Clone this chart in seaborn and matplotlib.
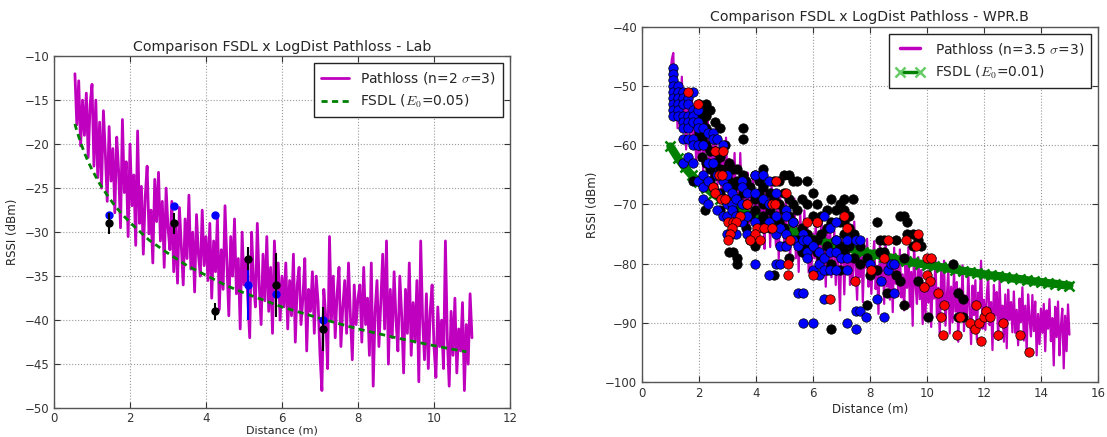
import matplotlib
matplotlib.use("Agg")
import matplotlib.pyplot as plt
import seaborn as sns

# ---------------- Left panel (Lab) ----------------
lab_dist = [
    0.55, 0.60, 0.65, 0.70, 0.75, 0.80, 0.85, 0.90, 0.95, 1.00,
    1.05, 1.10, 1.15, 1.20, 1.25, 1.30, 1.35, 1.40, 1.45, 1.50, 1.55, 1.60, 1.65, 1.70, 1.75, 1.80, 1.85, 1.90, 1.95, 2.00,
    2.05, 2.10, 2.15, 2.20, 2.25, 2.30, 2.35, 2.40, 2.45, 2.50, 2.55, 2.60, 2.65, 2.70, 2.75, 2.80, 2.85, 2.90, 2.95, 3.00,
    3.05, 3.10, 3.15, 3.20, 3.25, 3.30, 3.35, 3.40, 3.45, 3.50, 3.55, 3.60, 3.65, 3.70, 3.75, 3.80, 3.85, 3.90, 3.95, 4.00,
    4.05, 4.10, 4.15, 4.20, 4.25, 4.30, 4.35, 4.40, 4.45, 4.50, 4.55, 4.60, 4.65, 4.70, 4.75, 4.80, 4.85, 4.90, 4.95, 5.00,
    5.05, 5.10, 5.15, 5.20, 5.25, 5.30, 5.35, 5.40, 5.45, 5.50, 5.55, 5.60, 5.65, 5.70, 5.75, 5.80, 5.85, 5.90, 5.95, 6.00,
    6.05, 6.10, 6.15, 6.20, 6.25, 6.30, 6.35, 6.40, 6.45, 6.50, 6.55, 6.60, 6.65, 6.70, 6.75, 6.80, 6.85, 6.90, 6.95, 7.00,
    7.05, 7.10, 7.15, 7.20, 7.25, 7.30, 7.35, 7.40, 7.45, 7.50, 7.55, 7.60, 7.65, 7.70, 7.75, 7.80, 7.85, 7.90, 7.95, 8.00,
    8.05, 8.10, 8.15, 8.20, 8.25, 8.30, 8.35, 8.40, 8.45, 8.50, 8.55, 8.60, 8.65, 8.70, 8.75, 8.80, 8.85, 8.90, 8.95, 9.00,
    9.05, 9.10, 9.15, 9.20, 9.25, 9.30, 9.35, 9.40, 9.45, 9.50, 9.55, 9.60, 9.65, 9.70, 9.75, 9.80, 9.85, 9.90, 9.95, 10.00,
    10.05, 10.10, 10.15, 10.20, 10.25, 10.30, 10.35, 10.40, 10.45, 10.50, 10.55, 10.60, 10.65, 10.70, 10.75, 10.80, 10.85, 10.90, 10.95, 11.00,
]
lab_pathloss = [
    -12.0, -17.8, -12.8, -20.2, -15.0, -19.0, -14.2, -21.5, -15.5, -13.2,
    -22.5, -15.0, -23.8, -17.5, -25.0, -16.2, -21.0, -26.5, -18.0, -24.2, -20.5, -27.8, -19.2, -23.0, -29.5, -17.2, -25.5, -22.0, -30.5, -20.0,
    -27.0, -23.5, -31.5, -18.5, -29.0, -24.8, -32.5, -26.0, -22.5, -30.2, -27.5, -33.5, -24.0, -28.8, -23.2, -31.0, -26.5, -34.0, -25.0, -29.5,
    -32.0, -26.5, -34.5, -29.0, -35.8, -27.2, -31.5, -36.0, -28.5, -33.0, -25.8, -34.2, -30.0, -36.8, -28.0, -32.5, -35.0, -27.5, -33.8, -30.5,
    -35.5, -29.0, -37.5, -31.0, -34.5, -28.2, -38.8, -32.0, -36.5, -27.0, -33.5, -39.5, -30.5, -35.0, -28.5, -37.0, -33.0, -41.0, -30.0, -36.0,
    -33.0, -37.5, -42.0, -30.0, -35.5, -38.5, -29.0, -36.0, -40.5, -32.5, -37.8, -30.5, -39.0, -34.0, -41.5, -31.0, -36.5, -33.5, -40.0, -35.0,
    -38.5, -33.5, -41.0, -35.5, -39.5, -32.5, -42.5, -36.0, -34.0, -40.5, -37.5, -33.0, -43.5, -36.5, -39.0, -34.5, -41.5, -35.0, -38.0, -44.0,
    -48.0, -36.5, -39.5, -45.5, -30.5, -40.0, -35.0, -42.0, -37.0, -34.0, -43.0, -38.5, -35.5, -41.5, -33.5, -39.5, -44.5, -36.0, -40.5, -37.5,
    -36.0, -42.5, -34.0, -40.5, -37.5, -44.0, -33.5, -47.5, -39.0, -35.5, -43.0, -38.0, -32.5, -41.0, -31.0, -45.0, -36.5, -42.0, -34.5, -40.0,
    -43.5, -35.0, -39.5, -46.0, -36.5, -41.5, -33.5, -44.0, -38.0, -42.5, -35.5, -47.0, -31.0, -40.0, -44.5, -37.0, -45.5, -39.0, -36.0, -43.0,
    -46.5, -38.5, -43.0, -40.0, -45.5, -31.0, -42.0, -47.5, -39.0, -44.0, -37.5, -46.0, -41.0, -43.5, -38.0, -48.0, -40.5, -45.0, -37.0, -42.0,
]
lab_fsdl_dist = [0.55, 0.6, 0.7, 0.8, 0.9, 1.0, 1.2, 1.4, 1.6, 1.8, 2.0, 2.5, 3.0, 3.5,
                 4.0, 4.5, 5.0, 6.0, 7.0, 8.0, 9.0, 10.0, 10.85]
lab_fsdl = [-17.7, -18.5, -19.8, -21.0, -22.0, -22.9, -24.5, -25.8, -27.0, -28.0, -28.9, -30.9, -32.4, -33.8,
            -34.9, -36.0, -36.9, -38.5, -39.8, -41.0, -42.0, -42.9, -43.6]

lab_meas_dist = [1.44, 3.16, 4.24, 5.10, 5.84, 7.08]
lab_black_mean = [-29.0, -29.0, -39.0, -33.0, -36.0, -41.0]
lab_black_err = [1.2, 1.2, 1.0, 1.3, 3.6, 2.5]
lab_blue_mean = [-28.0, -27.0, -28.0, -36.0, -37.0, -40.0]
lab_blue_err = [0.3, 0.3, 0.2, 4.0, 0.8, 0.8]

# ---------------- Right panel (WPR.B) ----------------
wpr_dist = [
    1.00,
    1.05, 1.10, 1.15, 1.20, 1.25, 1.30, 1.35, 1.40, 1.45, 1.50, 1.55, 1.60, 1.65, 1.70, 1.75, 1.80, 1.85, 1.90, 1.95, 2.00,
    2.05, 2.10, 2.15, 2.20, 2.25, 2.30, 2.35, 2.40, 2.45, 2.50, 2.55, 2.60, 2.65, 2.70, 2.75, 2.80, 2.85, 2.90, 2.95, 3.00,
    3.05, 3.10, 3.15, 3.20, 3.25, 3.30, 3.35, 3.40, 3.45, 3.50, 3.55, 3.60, 3.65, 3.70, 3.75, 3.80, 3.85, 3.90, 3.95, 4.00,
    4.05, 4.10, 4.15, 4.20, 4.25, 4.30, 4.35, 4.40, 4.45, 4.50, 4.55, 4.60, 4.65, 4.70, 4.75, 4.80, 4.85, 4.90, 4.95, 5.00,
    5.05, 5.10, 5.15, 5.20, 5.25, 5.30, 5.35, 5.40, 5.45, 5.50, 5.55, 5.60, 5.65, 5.70, 5.75, 5.80, 5.85, 5.90, 5.95, 6.00,
    6.05, 6.10, 6.15, 6.20, 6.25, 6.30, 6.35, 6.40, 6.45, 6.50, 6.55, 6.60, 6.65, 6.70, 6.75, 6.80, 6.85, 6.90, 6.95, 7.00,
    7.05, 7.10, 7.15, 7.20, 7.25, 7.30, 7.35, 7.40, 7.45, 7.50, 7.55, 7.60, 7.65, 7.70, 7.75, 7.80, 7.85, 7.90, 7.95, 8.00,
    8.05, 8.10, 8.15, 8.20, 8.25, 8.30, 8.35, 8.40, 8.45, 8.50, 8.55, 8.60, 8.65, 8.70, 8.75, 8.80, 8.85, 8.90, 8.95, 9.00,
    9.05, 9.10, 9.15, 9.20, 9.25, 9.30, 9.35, 9.40, 9.45, 9.50, 9.55, 9.60, 9.65, 9.70, 9.75, 9.80, 9.85, 9.90, 9.95, 10.00,
    10.05, 10.10, 10.15, 10.20, 10.25, 10.30, 10.35, 10.40, 10.45, 10.50, 10.55, 10.60, 10.65, 10.70, 10.75, 10.80, 10.85, 10.90, 10.95, 11.00,
    11.05, 11.10, 11.15, 11.20, 11.25, 11.30, 11.35, 11.40, 11.45, 11.50, 11.55, 11.60, 11.65, 11.70, 11.75, 11.80, 11.85, 11.90, 11.95, 12.00,
    12.05, 12.10, 12.15, 12.20, 12.25, 12.30, 12.35, 12.40, 12.45, 12.50, 12.55, 12.60, 12.65, 12.70, 12.75, 12.80, 12.85, 12.90, 12.95, 13.00,
    13.05, 13.10, 13.15, 13.20, 13.25, 13.30, 13.35, 13.40, 13.45, 13.50, 13.55, 13.60, 13.65, 13.70, 13.75, 13.80, 13.85, 13.90, 13.95, 14.00,
    14.05, 14.10, 14.15, 14.20, 14.25, 14.30, 14.35, 14.40, 14.45, 14.50, 14.55, 14.60, 14.65, 14.70, 14.75, 14.80, 14.85, 14.90, 14.95, 15.00,
]
wpr_pathloss = [
    -48.0,
    -45.4, -44.4, -54.3, -50.7, -57.1, -49.6, -54.0, -48.4, -57.8, -52.3, -60.7, -51.1, -55.5, -59.0, -51.4, -58.8, -54.2, -62.7, -57.1, -62.5,
    -60.8, -55.1, -64.5, -57.8, -61.1, -53.4, -63.8, -60.1, -67.4, -58.8, -64.1, -56.4, -66.7, -63.1, -59.4, -68.7, -62.0, -67.4, -58.7, -66.0,
    -62.3, -71.5, -63.8, -68.0, -61.3, -70.6, -65.8, -70.1, -61.3, -68.6, -74.0, -65.1, -70.4, -64.6, -76.5, -67.2, -69.4, -64.7, -72.9, -69.2,
    -74.6, -68.8, -65.9, -74.1, -70.3, -77.5, -64.6, -72.8, -69.0, -77.2, -66.3, -74.5, -71.7, -76.9, -70.0, -79.2, -68.4, -74.6, -71.7, -76.9,
    -69.1, -77.2, -73.4, -79.5, -71.7, -75.8, -69.0, -79.1, -73.3, -81.4, -71.6, -75.7, -78.9, -71.0, -78.2, -73.3, -81.5, -75.6, -80.8, -74.9,
    -79.1, -73.2, -82.3, -75.4, -78.5, -71.6, -80.7, -76.8, -83.9, -75.0, -80.1, -73.2, -82.3, -78.4, -74.5, -83.6, -76.7, -81.8, -87.9, -76.0,
    -76.1, -85.2, -77.3, -81.4, -73.5, -83.6, -78.7, -82.8, -72.9, -81.0, -86.1, -77.2, -82.3, -76.4, -86.5, -78.6, -80.7, -75.8, -83.9, -80.0,
    -85.1, -79.2, -76.2, -84.3, -80.4, -88.5, -76.5, -82.6, -78.7, -86.8, -75.8, -83.9, -81.0, -86.1, -79.1, -88.2, -77.3, -83.4, -80.4, -85.5,
    -77.6, -85.7, -81.8, -87.9, -80.0, -84.1, -77.2, -87.3, -81.4, -90.5, -76.6, -83.7, -86.8, -78.9, -86.0, -81.1, -90.2, -83.3, -88.4, -82.5,
    -86.6, -79.7, -90.7, -82.8, -85.9, -79.0, -89.1, -84.1, -92.2, -81.3, -87.4, -79.5, -90.5, -85.6, -80.7, -91.8, -83.9, -89.9, -81.0, -88.1,
    -83.1, -93.2, -84.2, -89.3, -80.3, -91.4, -85.4, -89.5, -81.5, -87.6, -93.6, -83.7, -88.7, -82.8, -92.8, -84.9, -86.9, -79.5, -91.0, -86.1,
    -91.2, -85.3, -82.3, -90.4, -86.5, -94.6, -83.6, -88.7, -84.8, -92.9, -82.9, -90.0, -87.1, -93.2, -85.2, -94.3, -84.4, -89.5, -86.5, -91.6,
    -84.7, -91.7, -87.8, -93.8, -85.9, -89.9, -84.0, -93.0, -87.1, -95.1, -85.2, -89.2, -92.3, -85.3, -91.4, -86.4, -95.5, -88.5, -93.6, -87.6,
    -91.7, -86.8, -94.8, -87.9, -91.0, -86.0, -93.1, -89.2, -97.2, -87.3, -92.4, -86.4, -95.5, -90.6, -87.6, -97.7, -88.8, -94.8, -86.9, -92.0,
]
wpr_fsdl_dist = [1.0, 1.25, 1.5, 1.75, 2.0, 2.25, 2.5, 2.75, 3.0, 3.25, 3.5, 3.75, 4.0, 4.25, 4.5, 4.75,
                 5.0, 5.25, 5.5, 5.75, 6.0, 6.25, 6.5, 6.75, 7.0, 7.25, 7.5, 7.75, 8.0, 8.25, 8.5, 8.75,
                 9.0, 9.25, 9.5, 9.75, 10.0, 10.25, 10.5, 10.75, 11.0, 11.25, 11.5, 11.75, 12.0, 12.25,
                 12.5, 12.75, 13.0, 13.25, 13.5, 13.75, 14.0, 14.25, 14.5, 14.75, 15.0]
wpr_fsdl = [-60.2, -62.1, -63.7, -65.1, -66.2, -67.2, -68.2, -69.0, -69.7, -70.4, -71.1, -71.7, -72.2, -72.8, -73.3, -73.7,
            -74.2, -74.6, -75.0, -75.4, -75.8, -76.1, -76.5, -76.8, -77.1, -77.4, -77.7, -78.0, -78.3, -78.5, -78.8, -79.0,
            -79.3, -79.5, -79.8, -80.0, -80.2, -80.4, -80.6, -80.8, -81.0, -81.2, -81.4, -81.6, -81.8, -82.0,
            -82.1, -82.3, -82.5, -82.6, -82.8, -83.0, -83.1, -83.3, -83.4, -83.6, -83.7]

black_x = [1.80,
           2.00, 2.00, 2.00, 2.00, 2.00, 2.10, 2.10, 2.10, 2.10, 2.20,
           2.25, 2.25, 2.25, 2.25, 2.25, 2.40, 2.40, 2.40, 2.40, 2.40,
           2.55, 2.55, 2.55, 2.55, 2.55, 2.75, 2.75, 2.75, 2.75, 2.75,
           2.90, 2.90, 2.90, 2.90, 3.05, 3.05, 3.05, 3.05, 3.20, 3.20, 3.20, 3.20,
           3.35, 3.35, 3.35, 3.35, 3.35, 3.35, 3.55, 3.55, 3.55, 3.55, 3.55,
           3.65, 3.65, 3.65, 3.80, 3.80, 3.80, 3.95, 3.95, 3.95, 3.95,
           4.10, 4.10, 4.10, 4.25, 4.25, 4.25, 4.25, 4.50, 4.50, 4.50,
           4.65, 4.65, 4.65, 4.65, 4.80, 4.80, 4.80, 5.00, 5.00, 5.00, 5.00, 5.00,
           5.15, 5.15, 5.15, 5.15, 5.30, 5.30, 5.30, 5.45, 5.45, 5.45, 5.60, 5.60, 5.60,
           5.80, 5.80, 5.80, 5.80, 6.00, 6.00, 6.00, 6.15, 6.15, 6.15, 6.15, 6.30, 6.30, 6.30,
           6.50, 6.50, 6.50, 6.50, 6.65, 6.65, 6.65, 6.65, 6.80, 6.80, 6.80,
           6.95, 6.95, 6.95, 6.95, 7.10, 7.10, 7.10, 7.10, 7.10, 7.25, 7.25, 7.25, 7.40,
           7.45, 7.45, 7.65, 7.65, 7.90, 7.90, 8.00, 8.25, 8.25, 8.35, 8.35, 8.50, 8.50, 8.60,
           8.90, 8.90, 9.05, 9.05, 9.20, 9.20, 9.20, 9.30, 9.30, 9.50, 9.50, 9.70, 9.70, 9.80,
           10.05, 10.90, 11.10, 11.10, 11.25, 11.25]
black_y = [-66,
           -53, -55, -56, -58, -60, -54, -56, -59, -62, -71,
           -53, -55, -57, -60, -63, -54, -58, -61, -64, -66,
           -56, -59, -61, -63, -65, -57, -62, -64, -68, -71,
           -60, -64, -66, -69, -63, -66, -70, -78, -64, -67, -71, -78,
           -64, -66, -69, -72, -79, -80, -57, -59, -65, -68, -73,
           -66, -70, -74, -67, -72, -76, -65, -69, -71, -77,
           -66, -68, -73, -64, -67, -70, -72, -68, -71, -74,
           -66, -69, -72, -82, -66, -70, -73, -65, -68, -71, -74, -77,
           -65, -69, -72, -79, -66, -70, -73, -66, -71, -76, -69, -74, -78,
           -66, -70, -75, -77, -68, -72, -76, -70, -73, -76, -78, -72, -75, -79,
           -71, -74, -77, -81, -69, -73, -80, -91, -71, -76, -78,
           -70, -73, -77, -81, -69, -71, -73, -75, -78, -72, -74, -77, -69,
           -75, -79, -77, -80, -79, -87, -82, -73, -81, -76, -78, -76, -78, -85,
           -76, -82, -72, -83, -72, -79, -87, -73, -75, -75, -77, -76, -83, -77,
           -89, -80, -85, -89, -86, -89]

blue_x = [1.10, 1.10, 1.10, 1.10, 1.10, 1.10, 1.10, 1.10, 1.10,
          1.28, 1.28, 1.28, 1.28, 1.28, 1.28,
          1.45, 1.45, 1.45, 1.45, 1.45, 1.45, 1.45, 1.45,
          1.62, 1.62, 1.62, 1.62, 1.62, 1.62, 1.62,
          1.80, 1.80, 1.80, 1.80, 1.80, 1.80, 1.80,
          1.97, 1.97, 1.97, 1.97, 1.97, 2.15, 2.15, 2.15, 2.15, 2.15,
          2.33, 2.33, 2.33, 2.33, 2.50, 2.50, 2.50, 2.50, 2.65, 2.65, 2.65, 2.65,
          2.85, 2.85, 2.85, 2.85, 3.00, 3.00, 3.00, 3.00, 3.00, 3.15, 3.15, 3.15, 3.15,
          3.30, 3.30, 3.30, 3.50, 3.50, 3.50, 3.50, 3.70, 3.70, 3.70, 3.70,
          3.95, 3.95, 3.95, 3.95, 4.25, 4.25, 4.25, 4.45, 4.45, 4.45, 4.45,
          4.70, 4.70, 4.70, 4.70, 4.85, 4.85, 4.85, 5.07, 5.07, 5.07, 5.07,
          5.30, 5.30, 5.47, 5.47, 5.65, 5.65, 5.65, 5.65, 5.80, 5.80, 5.80,
          6.00, 6.00, 6.00, 6.20, 6.20, 6.20, 6.40, 6.40, 6.40, 6.40, 6.60, 6.60, 6.60,
          6.80, 6.80, 6.80, 6.80, 7.00, 7.20, 7.20, 7.20, 7.20, 7.50, 7.50, 7.50,
          7.65, 7.65, 7.85, 8.00, 8.25, 8.40, 8.50, 8.65, 8.75, 8.85, 8.85]
blue_y = [-47, -48, -49, -50, -51, -52, -53, -54, -55,
          -50, -51, -52, -53, -54, -55,
          -51, -52, -53, -55, -56, -57, -59, -63,
          -52, -53, -55, -56, -57, -59, -62,
          -51, -54, -55, -56, -59, -60, -63,
          -54, -56, -57, -60, -66, -57, -60, -65, -67, -69,
          -58, -63, -66, -70, -58, -59, -63, -67, -59, -65, -68, -71,
          -60, -66, -69, -72, -65, -67, -70, -72, -75, -68, -70, -71, -75,
          -69, -72, -75, -66, -67, -70, -73, -68, -70, -72, -75,
          -65, -68, -73, -80, -65, -69, -74, -66, -70, -73, -82,
          -68, -72, -75, -80, -74, -77, -80, -71, -72, -75, -77,
          -73, -76, -77, -85, -75, -76, -85, -90, -76, -78, -79,
          -77, -81, -90, -78, -80, -82, -72, -79, -81, -86, -74, -78, -81,
          -73, -76, -78, -81, -79, -76, -79, -81, -90, -76, -88, -91,
          -76, -88, -89, -80, -86, -83, -89, -81, -80, -80, -85]

red_x = [1.63, 1.97, 2.55, 2.85, 2.70, 2.80, 2.50, 2.56, 2.78, 2.90, 3.67, 4.55, 4.67, 3.44, 3.03, 3.20,
         3.30, 3.15, 4.02, 4.27, 4.55, 3.09, 3.98, 3.03, 3.80, 4.14, 5.20, 5.13, 5.13, 6.00, 6.60, 5.78,
         5.07, 4.72, 6.15, 7.10, 7.20, 7.48, 8.05, 8.50, 8.62, 9.26, 9.60, 9.70, 10.00, 10.15, 10.00,
         10.10, 9.90, 10.40, 10.60, 10.50, 10.55, 11.05, 11.15, 11.50, 11.67, 11.73, 11.83, 11.90,
         12.00, 12.08, 12.23, 12.50, 12.67, 13.25, 13.58]
red_y = [-51, -53, -61, -61, -65, -65, -67, -68, -69, -69, -70, -70, -70, -72, -73, -73,
         -73, -74, -74, -74, -74, -75, -75, -76, -76, -76, -76, -80, -82, -82, -86, -73,
         -68, -66, -73, -72, -74, -83, -81, -79, -76, -76, -77, -75, -79, -79, -82,
         -83, -84, -85, -87, -89, -92, -92, -89, -90, -91, -87, -90, -93,
         -89, -88, -89, -92, -90, -92, -95]

# ---------------- Styling ----------------
sns.set_theme(style="white", color_codes=False)
plt.rcParams.update({
    "font.family": ["DejaVu Sans"],
    "mathtext.fontset": "cm",
    "axes.edgecolor": "#555555",
    "axes.linewidth": 1.0,
    "xtick.direction": "in",
    "ytick.direction": "in",
    "xtick.top": True,
    "ytick.right": True,
    "xtick.bottom": True,
    "ytick.left": True,
    "xtick.major.size": 4,
    "ytick.major.size": 4,
    "xtick.major.width": 0.8,
    "ytick.major.width": 0.8,
    "xtick.color": "#333333",
    "ytick.color": "#333333",
    "xtick.labelsize": 8.5,
    "ytick.labelsize": 8.5,
})

MAG = "#bf00bf"
GRN = "#008000"
BLUE = "#0000ff"
RED = "#ff0000"
BLACK = "#000000"

fig = plt.figure(figsize=(11.07, 4.37), dpi=100)
axL = fig.add_axes([0.0488, 0.0660, 0.4119, 0.8055])
axR = fig.add_axes([0.5799, 0.1259, 0.4119, 0.8124])

for ax in (axL, axR):
    ax.grid(True, linestyle=":", color="#999999", linewidth=0.8)
    ax.set_axisbelow(True)
    for s in ax.spines.values():
        s.set_color("#555555")
        s.set_linewidth(1.0)

# Left panel
sns.lineplot(x=lab_dist, y=lab_pathloss, ax=axL, color=MAG, linewidth=2.0,
             estimator=None, sort=False, label=r"Pathloss (n=2 $\sigma$=3)")
sns.lineplot(x=lab_fsdl_dist, y=lab_fsdl, ax=axL, color=GRN, linewidth=2.0,
             linestyle=(0, (2.2, 1.6)), estimator=None, sort=False,
             label=r"FSDL ($E_0$=0.05)")
axL.errorbar(lab_meas_dist, lab_blue_mean, yerr=lab_blue_err, fmt="o", color=BLUE,
             ms=5, elinewidth=1.5, capsize=0, zorder=4)
axL.errorbar(lab_meas_dist, lab_black_mean, yerr=lab_black_err, fmt="o", color=BLACK,
             ms=5, elinewidth=1.5, capsize=0, zorder=5)
axL.set_xlim(0, 12)
axL.set_ylim(-50, -10)
axL.set_xticks([0, 2, 4, 6, 8, 10, 12])
axL.set_yticks([-50, -45, -40, -35, -30, -25, -20, -15, -10])
axL.tick_params(axis="x", pad=2.5)
axL.set_title("Comparison FSDL x LogDist Pathloss - Lab", fontsize=10.2, pad=4)
axL.set_xlabel("Distance (m)", fontsize=8, labelpad=0.5)
axL.set_ylabel("RSSI (dBm)", fontsize=8.5)
axL.legend(loc="upper right", fancybox=False, edgecolor="#222222", framealpha=1,
           fontsize=10, handlelength=2.0, borderpad=0.5)

# Right panel
sns.lineplot(x=wpr_dist, y=wpr_pathloss, ax=axR, color=MAG, linewidth=1.6,
             estimator=None, sort=False, label=r"Pathloss (n=3.5 $\sigma$=3)")
sns.lineplot(x=wpr_fsdl_dist, y=wpr_fsdl, ax=axR, color=GRN, linewidth=6.0,
             marker="x", markersize=7, markeredgewidth=1.8, markeredgecolor=GRN,
             estimator=None, sort=False, label=r"FSDL ($E_0$=0.01)")
sns.scatterplot(x=black_x, y=black_y, ax=axR, color=BLACK, s=46, edgecolor=BLACK,
                linewidth=0.5, zorder=3, legend=False)
sns.scatterplot(x=blue_x, y=blue_y, ax=axR, color=BLUE, s=46, edgecolor=BLACK,
                linewidth=0.5, zorder=3, legend=False)
sns.scatterplot(x=red_x, y=red_y, ax=axR, color=RED, s=46, edgecolor=BLACK,
                linewidth=0.5, zorder=3, legend=False)
axR.set_xlim(0, 16)
axR.set_ylim(-100, -40)
axR.set_xticks([0, 2, 4, 6, 8, 10, 12, 14, 16])
axR.set_yticks([-100, -90, -80, -70, -60, -50, -40])
axR.set_title("Comparison FSDL x LogDist Pathloss - WPR.B", fontsize=10.2, pad=4)
axR.set_xlabel("Distance (m)", fontsize=8.5, labelpad=2)
axR.set_ylabel("RSSI (dBm)", fontsize=8.5)
legR = axR.legend(loc="upper right", fancybox=False, edgecolor="#222222", framealpha=1,
                  fontsize=10, handlelength=2.0, borderpad=0.5, numpoints=2)
for h in legR.get_lines():
    h.set_linewidth(2.5)
    h.set_markeredgecolor("#66cc66")

fig.savefig("out.png", dpi=100)
